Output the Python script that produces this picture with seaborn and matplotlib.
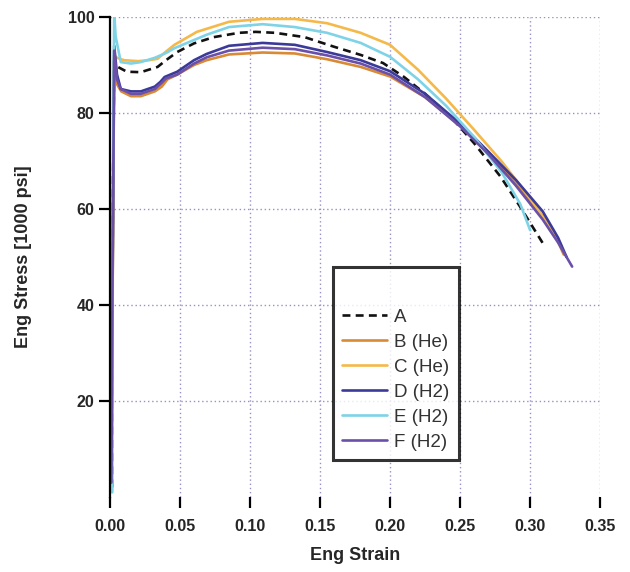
import pandas as pd
import matplotlib
matplotlib.use('Agg')
import matplotlib.pyplot as plt
import seaborn as sns

# Engineering stress-strain curves
strain_A = [0.0015, 0.002, 0.003, 0.0056, 0.012, 0.022, 0.034, 0.040, 0.048, 0.060, 0.074, 0.092, 0.104,
            0.118, 0.139, 0.160, 0.179, 0.195, 0.210, 0.225, 0.244, 0.260, 0.279, 0.293, 0.309]
stress_A = [2, 60, 91, 89.6, 88.6, 88.5, 89.6, 91, 92.7, 94.5, 95.8, 96.7, 96.9,
            96.7, 95.8, 93.8, 92.1, 90.4, 87.5, 84, 79, 73.7, 66.7, 60.4, 52.9]

strain_B = [0.001, 0.002, 0.003, 0.005, 0.008, 0.015, 0.022, 0.032, 0.037, 0.041, 0.048, 0.060, 0.069,
            0.085, 0.109, 0.132, 0.155, 0.179, 0.200, 0.225, 0.250, 0.270, 0.290, 0.309, 0.318, 0.324]
stress_B = [2, 50, 90, 86, 84.5, 83.5, 83.5, 84.5, 85.5, 87, 88, 90, 91,
            92.2, 92.6, 92.4, 91.2, 89.6, 87.6, 83.3, 77.4, 71.8, 65.3, 58.5, 54.5, 50.5]

strain_C = [0.0015, 0.002, 0.003, 0.005, 0.010, 0.020, 0.028, 0.034, 0.040, 0.046, 0.062, 0.085,
            0.109, 0.132, 0.155, 0.179, 0.200, 0.220, 0.240, 0.260, 0.280, 0.300, 0.312, 0.322]
stress_C = [1, 50, 92, 91.5, 91, 90.8, 91, 91.3, 92.8, 94.2, 96.9, 99,
            99.6, 99.6, 98.7, 96.7, 94.2, 89, 83, 76.5, 69.8, 62.2, 57, 52.5]

strain_D = [0.001, 0.002, 0.003, 0.005, 0.0077, 0.015, 0.022, 0.032, 0.036, 0.039, 0.048, 0.060, 0.069,
            0.085, 0.109, 0.132, 0.155, 0.179, 0.200, 0.225, 0.250, 0.270, 0.290, 0.309, 0.320, 0.326]
stress_D = [2, 50, 94, 88, 85, 84.5, 84.5, 85.5, 86.5, 87.5, 88.6, 91, 92.3,
            94, 94.6, 94.2, 92.7, 91, 88.7, 84, 77.8, 72, 66, 59.5, 54, 50]

strain_E = [0.0015, 0.002, 0.003, 0.004, 0.0077, 0.015, 0.022, 0.032, 0.040, 0.046, 0.069, 0.085,
            0.109, 0.132, 0.155, 0.179, 0.200, 0.220, 0.240, 0.260, 0.280, 0.293, 0.300]
stress_E = [1, 60, 101, 96, 90.6, 90.3, 90.6, 91.5, 92.5, 93.5, 96.3, 97.9,
            98.5, 97.9, 96.7, 94.6, 91.7, 87, 81.5, 75, 67.5, 61, 55.6]

strain_F = [0.001, 0.002, 0.003, 0.005, 0.0077, 0.015, 0.022, 0.032, 0.036, 0.040, 0.048, 0.060, 0.069,
            0.085, 0.109, 0.132, 0.155, 0.179, 0.200, 0.225, 0.250, 0.270, 0.290, 0.309, 0.320, 0.330]
stress_F = [3, 55, 93, 87, 85, 84, 84, 85, 86, 87.2, 88, 90.3, 91.6,
            93, 93.6, 93.3, 92, 90.3, 88, 83.3, 77.2, 71.5, 64.8, 57.8, 53, 48]

labels = ['A', 'B (He)', 'C (He)', 'D (H2)', 'E (H2)', 'F (H2)']
colors = ['#111111', '#d98a35', '#f5b94a', '#3b3a98', '#7fd3e6', '#6a50a8']
styles = [(0, (3, 2)), '-', '-', '-', '-', '-']
series = [(strain_A, stress_A), (strain_B, stress_B), (strain_C, stress_C),
          (strain_D, stress_D), (strain_E, stress_E), (strain_F, stress_F)]

sns.set_style('white')
plt.rcParams['font.family'] = ['Liberation Sans', 'DejaVu Sans']

fig = plt.figure(figsize=(6.3, 5.72), dpi=100)
ax = fig.add_axes([0.1746, 0.1311, 0.778, 0.8392])

for (x, y), lab, col, ls in zip(series, labels, colors, styles):
    df = pd.DataFrame({'strain': x, 'stress': y})
    sns.lineplot(data=df, x='strain', y='stress', ax=ax, color=col, linestyle=ls,
                 linewidth=1.9, label=lab, sort=False, estimator=None)

ax.set_xlim(0, 0.35)
ax.set_ylim(0, 100)
ax.set_xticks([0.0, 0.05, 0.10, 0.15, 0.20, 0.25, 0.30, 0.35])
ax.set_xticklabels(['0.00', '0.05', '0.10', '0.15', '0.20', '0.25', '0.30', '0.35'])
ax.set_yticks([20, 40, 60, 80, 100])

# dotted grid like the original
for gx in [0.05, 0.10, 0.15, 0.20, 0.25, 0.30, 0.35]:
    ax.axvline(gx, color='#9a90c4', linestyle=(0, (1, 2)), linewidth=1.0, zorder=0)
for gy in [20, 40, 60, 80, 100]:
    ax.axhline(gy, color='#9a90c4', linestyle=(0, (1, 2)), linewidth=1.0, zorder=0)

for side in ['top', 'right', 'bottom']:
    ax.spines[side].set_visible(False)
ax.spines['left'].set_color('black')
ax.spines['left'].set_linewidth(1.6)

ax.tick_params(axis='y', direction='out', length=8, width=1.6, color='black', pad=3,
               labelsize=11.5, left=True)
ax.tick_params(axis='x', direction='out', length=8, width=1.6, color='black', pad=8,
               labelsize=11.5, bottom=True)
for t in ax.get_xticklabels() + ax.get_yticklabels():
    t.set_fontweight('bold')

ax.set_xlabel('Eng Strain', fontsize=13, fontweight='bold', labelpad=9)
ax.set_ylabel('Eng Stress [1000 psi]', fontsize=13, fontweight='bold', labelpad=26)

leg = ax.legend(loc='upper left', bbox_to_anchor=(0.435, 0.498), fontsize=13.5,
                handlelength=2.4, handletextpad=0.4, labelspacing=0.42, borderpad=0.5,
                title=' ', title_fontsize=18, frameon=True, fancybox=False, alignment='left')
leg.get_frame().set_edgecolor('black')
leg.get_frame().set_linewidth(2.2)
for t in leg.get_texts():
    t.set_color('#333333')

fig.savefig('out.png', dpi=100)
